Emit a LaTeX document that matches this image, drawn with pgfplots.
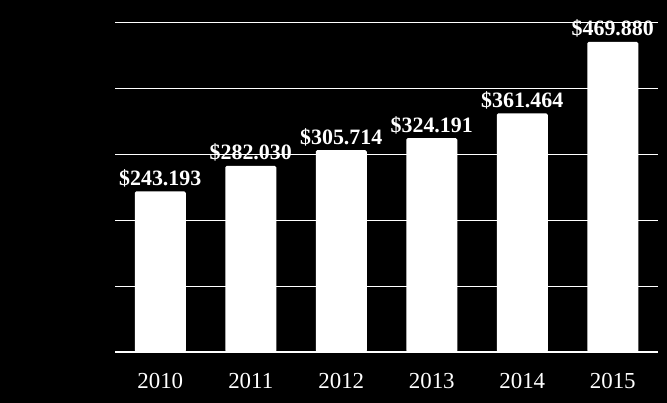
\documentclass[border=0pt]{standalone}
\usepackage{pgfplots}
\pgfplotsset{compat=1.18}
\usepackage{fontspec}
\setmainfont{Liberation Serif}
\begin{document}
\begin{tikzpicture}
\path[use as bounding box, fill=black] (0,0) rectangle (667bp,403bp);
\begin{axis}[
  at={(115bp,51bp)}, anchor=south west,
  scale only axis, width=543bp, height=330bp,
  xmin=-0.5, xmax=5.5, ymin=0, ymax=500,
  axis x line*=bottom, axis y line*=left,
  x axis line style={white, line width=2bp},
  y axis line style={draw=none},
  xtick={0,...,5}, xticklabels={2010,2011,2012,2013,2014,2015},
  ytick={0,100,...,500}, yticklabels={},
  major tick length=0pt,
  ymajorgrids, grid style={white, line width=1bp},
  xticklabel style={white, font=\fontsize{23}{26}\selectfont, anchor=base, yshift=-37bp},
  /pgf/number format/assume math mode=true,
  clip=false,
  ybar, bar width=51bp,
  nodes near coords={\$\pgfmathprintnumber[fixed,fixed zerofill,precision=3]{\pgfplotspointmeta}},
  every node near coord/.append style={white, font=\bfseries\fontsize{22}{24}\selectfont, anchor=base, yshift=6bp, inner sep=0pt},
]
\addplot[fill=white, draw=none, rounded corners=1.5bp] coordinates {
  (0,243.193) (1,282.030) (2,305.714) (3,324.191) (4,361.464) (5,469.880)
};
\end{axis}
\end{tikzpicture}
\end{document}
